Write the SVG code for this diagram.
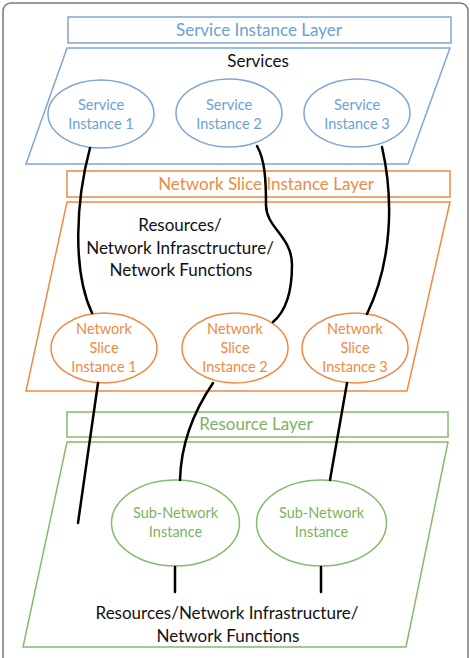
<svg xmlns="http://www.w3.org/2000/svg" width="470" height="658" viewBox="0 0 470 658">
<style>
text{font-family:Lato,"Noto Sans","Liberation Sans",sans-serif;text-anchor:middle}
.b{fill:none;stroke:#7ea6d6;stroke-width:1.5}
.o{fill:none;stroke:#ee8a45;stroke-width:1.5}
.g{fill:none;stroke:#86bb6a;stroke-width:1.5}
.bt{fill:#6a9fd8;font-size:14.5px}
.ot{fill:#ee8a45;font-size:14.5px}
.gt{fill:#7cb35f;font-size:14.5px}
.lt{font-size:17px}
.k{fill:#111;font-size:17px}
.c{fill:none;stroke:#000;stroke-width:2.5;stroke-linecap:round}
</style>
<rect x="3" y="3" width="465" height="680" rx="8" fill="#fff" stroke="#7a7a7a" stroke-width="1.5"/>
<g id="service-layer">
<rect class="b" x="68" y="17" width="383" height="26"/>
<text class="bt lt" x="259" y="36">Service Instance Layer</text>
</g>
<g id="services-plane">
<polygon class="b" points="67,48 450,48 408,164 26,164"/>
<text class="k" x="258" y="67">Services</text>
</g>
<g id="si1"><ellipse class="b" cx="101" cy="114" rx="53" ry="34"/><text class="bt"><tspan x="101" y="110">Service</tspan><tspan x="101" y="129">Instance 1</tspan></text></g>
<g id="si2"><ellipse class="b" cx="229" cy="113" rx="53" ry="34"/><text class="bt"><tspan x="229" y="110">Service</tspan><tspan x="229" y="129">Instance 2</tspan></text></g>
<g id="si3"><ellipse class="b" cx="357" cy="113" rx="53" ry="34"/><text class="bt"><tspan x="357" y="110">Service</tspan><tspan x="357" y="129">Instance 3</tspan></text></g>
<g id="nsi-layer">
<rect class="o" x="67" y="171" width="383" height="26"/>
<text class="ot lt" x="266" y="190">Network Slice Instance Layer</text>
</g>
<g id="nsi-plane">
<polygon class="o" points="67,202 450,202 407,391 26,391"/>
<text class="k"><tspan x="180" y="231">Resources/</tspan><tspan x="180" y="254">Network Infrasctructure/</tspan><tspan x="181" y="276">Network Functions</tspan></text>
</g>
<g id="nsi1"><ellipse class="o" cx="104" cy="348" rx="53" ry="35"/><text class="ot"><tspan x="104" y="334">Network</tspan><tspan x="104" y="353">Slice</tspan><tspan x="104" y="372">Instance 1</tspan></text></g>
<g id="nsi2"><ellipse class="o" cx="235" cy="348" rx="53" ry="35"/><text class="ot"><tspan x="235" y="334">Network</tspan><tspan x="235" y="353">Slice</tspan><tspan x="235" y="372">Instance 2</tspan></text></g>
<g id="nsi3"><ellipse class="o" cx="355" cy="348" rx="53" ry="35"/><text class="ot"><tspan x="355" y="334">Network</tspan><tspan x="355" y="353">Slice</tspan><tspan x="355" y="372">Instance 3</tspan></text></g>
<g id="resource-layer">
<rect class="g" x="67" y="412" width="381" height="25"/>
<text class="gt lt" x="256" y="430">Resource Layer</text>
</g>
<g id="resource-plane">
<polygon class="g" points="67,442 448,442 406,647 23,647"/>
<text class="k"><tspan x="227" y="619">Resources/Network Infrastructure/</tspan><tspan x="228" y="642">Network Functions</tspan></text>
</g>
<g id="sn1"><ellipse class="g" cx="175.5" cy="523" rx="64" ry="43"/><text class="gt"><tspan x="175.5" y="518">Sub-Network</tspan><tspan x="175.5" y="537">Instance</tspan></text></g>
<g id="sn2"><ellipse class="g" cx="321.5" cy="523" rx="65" ry="43"/><text class="gt"><tspan x="321.5" y="518">Sub-Network</tspan><tspan x="321.5" y="537">Instance</tspan></text></g>
<g id="connectors">
<path class="c" d="M90,148 C76,200 72,270 92,313"/>
<path class="c" d="M257,146 C265,160 266,180 266,205 C266,228 292,236 292,265 C292,295 285,312 273,322"/>
<path class="c" d="M382,147 C394,200 392,262 367,314"/>
<path class="c" d="M98,383 L78,523"/>
<path class="c" d="M213,383 C196,408 181,440 180,480"/>
<path class="c" d="M347,383 L330,480"/>
<path class="c" d="M175,567 L175,592"/>
<path class="c" d="M321,567 L321,592"/>
</g>
</svg>
